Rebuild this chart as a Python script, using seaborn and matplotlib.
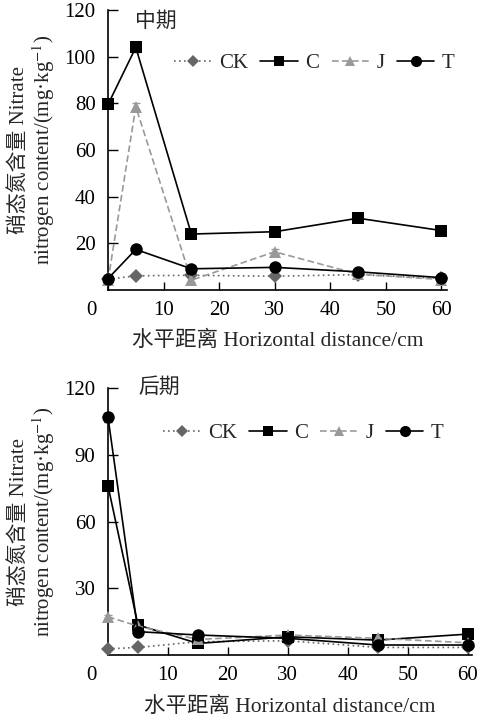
import pandas as pd
import numpy as np
import seaborn as sns
import matplotlib.pyplot as plt
from matplotlib.transforms import ScaledTranslation

# horizontal distance (cm)
distancia = [0, 5, 15, 30, 45, 60]
tratamientos = ['CK', 'C', 'J', 'T']

# 中期
mid_CK = [4.5, 6.0, 6.2, 5.8, 6.5, 4.9]
mid_C = [79.5, 104.0, 23.9, 24.9, 30.7, 25.4]
mid_J = [4.0, 78.5, 4.1, 16.3, 6.7, 4.4]
mid_T = [4.8, 17.3, 9.0, 9.6, 7.7, 5.2]
mid_err_C = [1.0, 2.0, 1.0, 1.0, 1.0, 1.0]
mid_err_J = [0.5, 1.5, 0.8, 1.0, 0.5, 0.5]

# 后期
late_CK = [2.8, 3.4, 6.0, 6.4, 3.4, 3.4]
late_C = [76.0, 13.5, 5.2, 8.2, 6.7, 9.4]
late_J = [17.2, 13.0, 7.0, 9.0, 7.5, 5.5]
late_T = [106.9, 10.5, 9.0, 7.5, 4.5, 4.5]
late_err_T = [2.0, 1.0, 0.8, 0.5, 0.5, 0.5]
late_err_J = [1.0, 0.8, 0.5, 0.5, 0.5, 0.5]

def armar(ck, c, j, t):
    filas = []
    for trat, vals in zip(tratamientos, [ck, c, j, t]):
        for d, v in zip(distancia, vals):
            filas.append({'dist': d, 'valor': v, 'trat': trat})
    return pd.DataFrame(filas)

df_mid = armar(mid_CK, mid_C, mid_J, mid_T)
df_late = armar(late_CK, late_C, late_J, late_T)

sns.set_theme(style='ticks')
plt.rcParams['font.family'] = ['Liberation Serif', 'Noto Sans CJK SC']
plt.rcParams['mathtext.fontset'] = 'stix'

colores = {'CK': '#666666', 'C': 'black', 'J': '#999999', 'T': 'black'}
marcas = {'CK': 'D', 'C': 's', 'J': '^', 'T': 'o'}
lineas = {'CK': (1, 2), 'C': '', 'J': (4, 2), 'T': ''}
tamanos = {'CK': 7, 'C': 8, 'J': 8, 'T': 9}

fig = plt.figure(figsize=(4.78, 7.19), dpi=100)
ax1 = fig.add_axes([0.226, 0.597, 0.709, 0.389])
ax2 = fig.add_axes([0.226, 0.089, 0.761, 0.371])

def dibujar(ax, df, errores, yticks, titulo, ytit, xmax, leg_pos):
    sns.lineplot(data=df, x='dist', y='valor', hue='trat', style='trat',
                 palette=colores, markers=marcas, dashes=lineas,
                 markeredgewidth=0, linewidth=1.2, ax=ax, legend=False,
                 clip_on=False, zorder=3)
    for linea, trat in zip(ax.lines, tratamientos):
        linea.set_markersize(tamanos[trat])
        linea.set_markeredgecolor(colores[trat])
    for trat, err in errores.items():
        sub = df[df['trat'] == trat]
        ax.errorbar(sub['dist'], sub['valor'], yerr=err, fmt='none',
                    ecolor=colores[trat], elinewidth=0.8, capsize=3,
                    clip_on=False, zorder=2)
    ax.set_xlim(0, xmax)
    ax.set_ylim(0, 120)
    ax.set_yticks(yticks)
    ax.set_xticks([0, 10, 20, 30, 40, 50, 60])
    ax.tick_params(direction='in', length=7, width=1, labelsize=15, colors='black')
    ax.tick_params(axis='x', length=6, pad=8)
    ax.tick_params(axis='y', pad=9)
    desplazar = ScaledTranslation(-0.17, 0, fig.dpi_scale_trans)
    etiqueta0 = ax.get_xticklabels()[0]
    etiqueta0.set_transform(etiqueta0.get_transform() + desplazar)
    sns.despine(ax=ax)
    for s in ['left', 'bottom']:
        ax.spines[s].set_linewidth(1.2)
        ax.spines[s].set_color('black')
    ax.set_xlabel('水平距离 Horizontal distance/cm', fontsize=15.5, labelpad=8)
    ax.set_ylabel('硝态氮含量 Nitrate\nnitrogen content/(mg·kg$^{-1}$)',
                  fontsize=15, linespacing=1.1, labelpad=5)
    ax.text(0.14, ytit, titulo, transform=ax.transAxes, fontsize=15,
            va='center', ha='center')
    handles = []
    for trat in tratamientos:
        h, = ax.plot([], [], color=colores[trat], marker=marcas[trat],
                     markersize=tamanos[trat] - 1, markeredgewidth=0,
                     linewidth=1.2,
                     dashes=lineas[trat] if lineas[trat] else (None, None))
        handles.append(h)
    ax.legend(handles, tratamientos, ncol=4, frameon=False, fontsize=15,
              loc='center left', bbox_to_anchor=leg_pos,
              borderaxespad=0, borderpad=0,
              handlelength=1.8, handletextpad=0.35, columnspacing=0.6)

dibujar(ax1, df_mid, {'C': mid_err_C, 'J': mid_err_J},
        [20, 40, 60, 80, 100, 120], '中期', 0.957, 61, (0.195, 0.81))
dibujar(ax2, df_late, {'T': late_err_T, 'J': late_err_J},
        [30, 60, 90, 120], '后期', 1.0, 60.7, (0.151, 0.83))

fig.savefig('out.png', dpi=100)
